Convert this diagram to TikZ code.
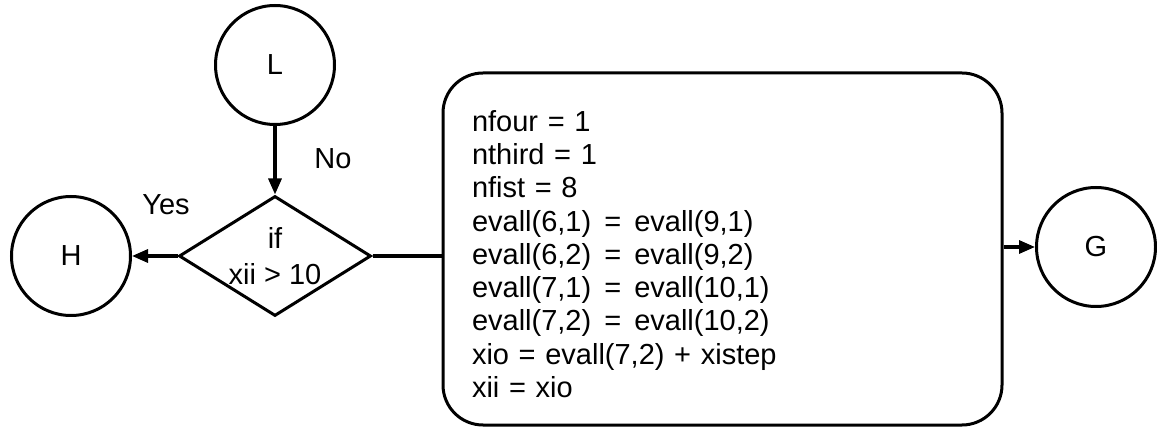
\documentclass[tikz,border=0pt]{standalone}
\usepackage{fontspec}
\setmainfont{Liberation Sans}
\usetikzlibrary{shapes.geometric,arrows.meta}
\begin{document}
\begin{tikzpicture}[x=1pt,y=-1pt,
  every node/.style={font=\fontsize{29}{33.25}\selectfont},
  ln/.style={line width=3.2pt},
  arr/.style={line width=3.2pt,-{Triangle[length=16pt,width=13pt]}},
  conn/.style={circle,draw,line width=3pt,minimum size=119pt,inner sep=0pt},
  decision/.style={diamond,draw,line width=3pt,aspect=1.6,minimum width=192pt,
    minimum height=120pt,inner sep=0pt,align=center,font=\fontsize{29}{36}\selectfont},
  procbox/.style={draw,line width=3pt,rounded corners=40pt,minimum width=559pt,
    minimum height=352pt,text width=501pt,inner xsep=29pt,align=left},
]
\useasboundingbox (0,0) rectangle (1157,430);
\newcommand{\myeq}{\hspace{0.45em}=\hspace{0.45em}}
\node[conn] (L) at (275,65) {L};
\node[decision] (D) at (275,256) {if\\xii > 10};
\node[conn] (H) at (71,256) {H};
\node[procbox] (B) at (722.5,249) {\rule{0pt}{31pt}nfour = 1\\
nthird = 1\\
nfist = 8\\
evall(6,1)\myeq evall(9,1)\\
evall(6,2)\myeq evall(9,2)\\
evall(7,1)\myeq evall(10,1)\\
evall(7,2)\myeq evall(10,2)\\
xio = evall(7,2) + xistep\\
xii = xio};
\node[conn] (G) at (1096,247) {G};
\node (no) at (333,159) {No};
\node (yes) at (166,205) {Yes};
\draw[arr] (L) -- (D.north);
\draw[arr] (D.west) -- (H);
\draw[ln] (D.east) -- (D.east -| B.west);
\draw[arr] (B.east |- G.west) -- (G.west);
\end{tikzpicture}
\end{document}
